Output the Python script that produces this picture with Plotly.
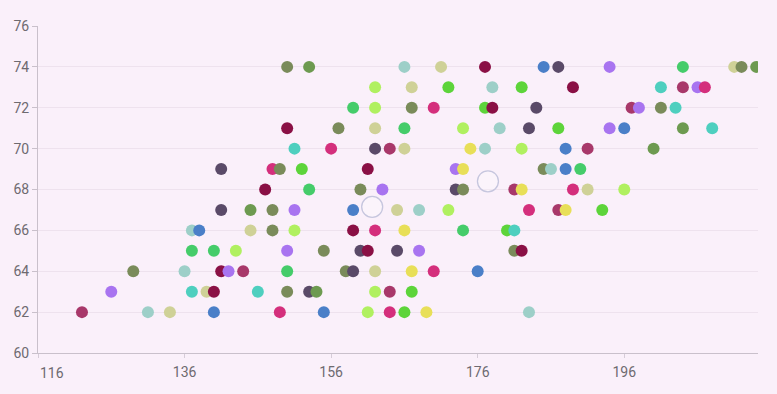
import plotly.graph_objects as go

# ---- data ----
y_levels = [62, 63, 64, 65, 66, 67, 68, 69, 70, 71, 72, 73, 74]

x_rows = [
    [122, 131, 134, 140, 149, 155, 161, 164, 166, 169, 183],
    [126, 137, 139, 140, 146, 150, 153, 154, 162, 164, 167],
    [129, 136, 141, 142, 144, 150, 158, 159, 162, 167, 170, 176],
    [137, 140, 143, 150, 155, 160, 161, 165, 168, 181, 182],
    [137, 138, 145, 148, 151, 159, 162, 166, 174, 180, 181],
    [141, 145, 148, 151, 159, 165, 168, 172, 183, 187, 188, 193],
    [147, 153, 160, 163, 173, 174, 181, 182, 189, 191, 196],
    [141, 148, 149, 152, 161, 173, 174, 185, 186, 188, 190],
    [151, 156, 162, 164, 166, 175, 177, 182, 188, 191, 200],
    [150, 157, 162, 166, 174, 179, 183, 187, 194, 196, 204, 208],
    [159, 162, 167, 170, 177, 178, 184, 197, 198, 201, 203],
    [162, 167, 172, 178, 182, 189, 201, 204, 206, 207],
    [150, 153, 166, 171, 177, 185, 187, 194, 204, 211, 212, 214],
]

color_rows = [
    ["mauve", "lteal", "khaki", "blue", "pink", "blue", "lgreen", "pink", "green", "yellow", "lteal"],
    ["purple", "teal", "khaki", "dmaroon", "teal", "olive", "dpurple", "olivegreen", "lgreen", "mauve", "green"],
    ["olive", "lteal", "dmaroon", "purple", "mauve", "emerald", "olive", "dpurple", "khaki", "yellow", "pink", "blue"],
    ["emerald", "emerald", "lgreen", "purple", "olive", "dpurple", "dmaroon", "dpurple", "purple", "olive", "dmaroon"],
    ["lteal", "blue", "khaki", "olive", "lgreen", "dmaroon", "pink", "yellow", "emerald", "green", "teal"],
    ["dpurple", "olivegreen", "olive", "purple", "blue", "khaki", "lteal", "lgreen", "pink", "mauve", "yellow", "green"],
    ["dmaroon", "emerald", "olive", "purple", "dpurple", "olive", "mauve", "yellow", "pink", "khaki", "lgreen"],
    ["dpurple", "pink", "olive", "green", "dmaroon", "purple", "yellow", "olive", "lteal", "blue", "emerald"],
    ["teal", "pink", "dpurple", "mauve", "khaki", "yellow", "lteal", "lgreen", "blue", "mauve", "olivegreen"],
    ["dmaroon", "olive", "khaki", "emerald", "lgreen", "lteal", "dpurple", "green", "purple", "blue", "olivegreen", "teal"],
    ["emerald", "lgreen", "olive", "pink", "green", "dmaroon", "dpurple", "mauve", "purple", "olive", "teal"],
    ["lgreen", "khaki", "green", "lteal", "green", "dmaroon", "teal", "mauve", "purple", "pink"],
    ["olive", "olivegreen", "lteal", "khaki", "dmaroon", "blue", "dpurple", "purple", "emerald", "khaki", "olive", "olivegreen"],
]

hollow_x = [161.6, 177.4]
hollow_y = [67.15, 68.4]

x_ticks = [116, 136, 156, 176, 196]
y_ticks = [60, 62, 64, 66, 68, 70, 72, 74, 76]

# ---- styles ----
palette = {
    "mauve": "#a8386a", "lteal": "#9dcfc8", "khaki": "#cfd197", "blue": "#4a7fc8",
    "pink": "#d42f7c", "lgreen": "#b0f060", "green": "#5dd43a", "yellow": "#e8df58",
    "olive": "#7a8b5a", "olivegreen": "#6d9a50", "dpurple": "#5a4a68", "dmaroon": "#8a1045",
    "purple": "#a874f0", "emerald": "#45cc6a", "teal": "#4ecfbf",
}
BG = "#faf0fa"

xs, ys, cs = [], [], []
for yv, xr, cr in zip(y_levels, x_rows, color_rows):
    for xv, cn in zip(xr, cr):
        xs.append(xv)
        ys.append(yv)
        cs.append(palette[cn])

fig = go.Figure()
fig.add_trace(go.Scatter(
    x=xs, y=ys, mode="markers",
    marker=dict(size=12, color=cs, line=dict(width=0)),
    hoverinfo="x+y", showlegend=False,
))
fig.add_trace(go.Scatter(
    x=hollow_x, y=hollow_y, mode="markers",
    marker=dict(size=21, color="rgba(255,255,255,0.25)", line=dict(width=1.3, color="#c6c6de")),
    showlegend=False,
))

font = dict(family="Roboto, sans-serif", size=14, color="#6e6a70")

fig.update_layout(
    width=777, height=394,
    margin=dict(l=38, r=19, t=26, b=41),
    paper_bgcolor=BG, plot_bgcolor=BG,
    font=font,
    xaxis=dict(
        range=[116, 214.25], tickvals=x_ticks,
        ticktext=["" if v == 116 else str(v) for v in x_ticks],
        showgrid=False, zeroline=False,
        showline=True, linecolor="#c9c0cb", linewidth=1,
        ticks="outside", ticklen=4, tickcolor="#d6ccd8",
        tickfont=font, ticklabelstandoff=2,
    ),
    yaxis=dict(
        range=[60, 76], tickvals=y_ticks,
        showgrid=True, gridcolor="#eee2ee", gridwidth=1,
        zeroline=False,
        showline=True, linecolor="#c9c0cb", linewidth=1,
        ticks="outside", ticklen=5, tickcolor="#c9c0cb",
        tickfont=font,
    ),
    annotations=[dict(
        x=116, y=0, xref="x", yref="paper", text="116", showarrow=False,
        xanchor="left", yanchor="top", yshift=-10, xshift=0, font=font,
    )],
)

fig.write_html("out.html")
